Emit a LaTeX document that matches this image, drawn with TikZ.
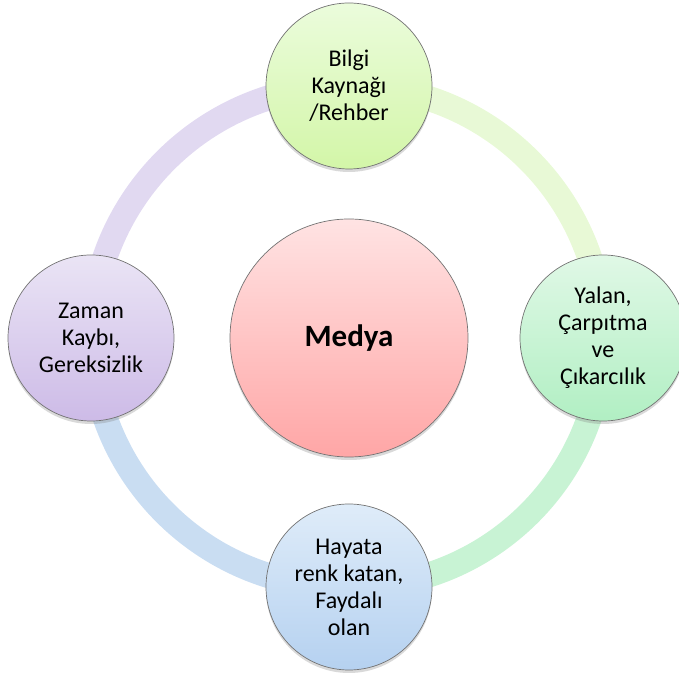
\documentclass[tikz,border=0pt]{standalone}
\usepackage{fontspec}
\setmainfont{Carlito}
\usetikzlibrary{shadows,backgrounds}
\definecolor{hubtop}{HTML}{FFE3E3}
\definecolor{hubbot}{HTML}{FFA6A6}
\definecolor{bilgitop}{HTML}{EBFCDC}
\definecolor{bilgibot}{HTML}{D3F6A8}
\definecolor{yalantop}{HTML}{E0F8E6}
\definecolor{yalanbot}{HTML}{B1EFC3}
\definecolor{hayatatop}{HTML}{DFECF9}
\definecolor{hayatabot}{HTML}{B5D1F0}
\definecolor{zamantop}{HTML}{EAE4F5}
\definecolor{zamanbot}{HTML}{CDBBE7}
\definecolor{arcone}{HTML}{E8F9D6}
\definecolor{arctwo}{HTML}{C8F3D4}
\definecolor{arcthree}{HTML}{C9DDF2}
\definecolor{arcfour}{HTML}{E1D9F1}
\tikzset{
  hub/.style={
    circle,
    minimum size=238pt,
    inner sep=0pt,
    align=center,
    draw=black!55,
    line width=0.7pt,
    top color=hubtop,
    bottom color=hubbot,
    drop shadow={shadow xshift=0pt, shadow yshift=-3pt, opacity=0.3},
    font=\bfseries\fontsize{31}{36}\selectfont
    },
  spoke/.style={
    circle,
    minimum size=166pt,
    inner sep=0pt,
    align=center,
    draw=black!55,
    line width=0.7pt,
    drop shadow={shadow xshift=0pt, shadow yshift=-3pt, opacity=0.3},
    font=\fontsize{24}{27}\selectfont
    },
  ringarc/.style={line width=25pt},
}

\begin{document}
\begin{tikzpicture}[
            x = 1pt, y = 1pt,
            node distance = 252pt % centre to centre
        ]
         \useasboundingbox (0,0) rectangle (678,679);

         \node[hub] (medya) at (349,341) {Medya};
         \node[spoke, top color=bilgitop, bottom color=bilgibot]
              (bilgi) [above of=medya] {Bilgi\\Kaynağı\\/Rehber};
         \node[spoke, top color=yalantop, bottom color=yalanbot, node distance=254pt]
              (yalan) [right of=medya] {Yalan,\\Çarpıtma\\ve\\Çıkarcılık};
         \node[spoke, top color=hayatatop, bottom color=hayatabot, node distance=249pt]
              (hayata) [below of=medya] {Hayata\\renk katan,\\Faydalı\\olan};
         \node[spoke, top color=zamantop, bottom color=zamanbot, node distance=258pt]
              (zaman) [left of=medya] {Zaman\\Kaybı,\\Gereksizlik};

         % ring behind the circles
         \begin{scope}[on background layer]
           \draw[ringarc, arcone] (bilgi.center) to[bend left=45] (yalan.center);
           \draw[ringarc, arctwo] (yalan.center) to[bend left=45] (hayata.center);
           \draw[ringarc, arcthree] (hayata.center) to[bend left=45] (zaman.center);
           \draw[ringarc, arcfour] (zaman.center) to[bend left=45] (bilgi.center);
         \end{scope}
  \end{tikzpicture}
\end{document}
